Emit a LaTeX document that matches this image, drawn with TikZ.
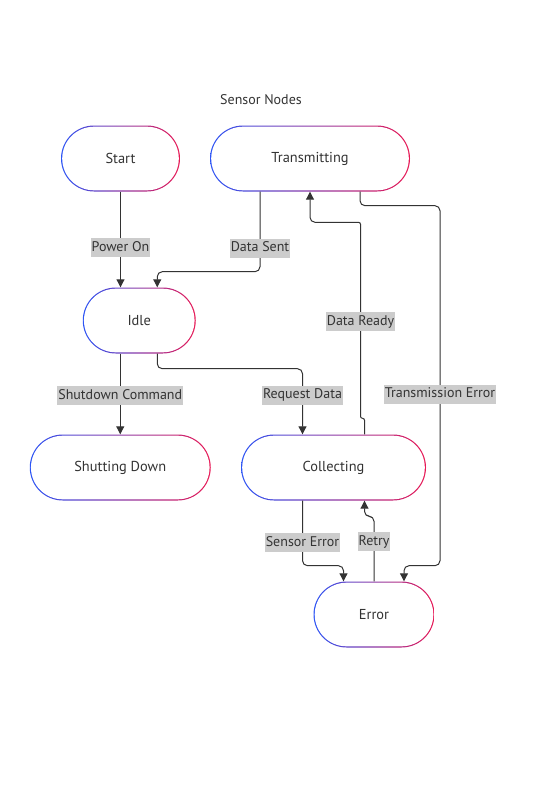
\documentclass[tikz,border=0pt]{standalone}
\usepackage{fontspec}
\setmainfont{PT Sans}
\usetikzlibrary{arrows.meta}
\definecolor{sblue}{RGB}{45,85,245}
\definecolor{spink}{RGB}{232,25,85}
\definecolor{txt}{RGB}{51,51,51}
\definecolor{lblgray}{RGB}{204,204,204}
\tikzset{
  state/.style={rectangle, rounded corners=33pt, minimum height=66pt, text=txt,
    font=\fontsize{14.4pt}{16pt}\selectfont,
    path picture={
      \shade[left color=sblue, right color=spink] (path picture bounding box.south west) rectangle (path picture bounding box.north east);
      \fill[white, rounded corners=31.8pt] ([shift={(1.2pt,1.2pt)}]path picture bounding box.south west) rectangle ([shift={(-1.2pt,-1.2pt)}]path picture bounding box.north east);
    }},
  edge/.style={draw=txt, line width=1pt, rounded corners=5pt, -{Triangle[length=8pt,width=8pt]}},
  lbl/.style={sharp corners, fill=lblgray, text=txt, font=\fontsize{14pt}{16pt}\selectfont, inner xsep=1pt, inner ysep=3pt, text height=10pt, text depth=3pt, yshift=-1.5pt}
}
\begin{document}
\begin{tikzpicture}[x=1pt,y=-1pt]
\useasboundingbox (0,0) rectangle (547,804);
\node[text=txt, font=\fontsize{14pt}{16pt}\selectfont] (title) at (261,100) {Sensor Nodes};

\node[state, minimum width=119pt] (start) at (120.5,158.5) {Start};
\node[state, minimum width=200pt] (trans) at (310,158.5) {Transmitting};
\node[state, minimum width=113pt] (idle) at (139.25,320.5) {Idle};
\node[state, minimum width=181pt] (shut) at (120.25,467.5) {Shutting Down};
\node[state, minimum width=185pt] (coll) at (333.5,467.5) {Collecting};
\node[state, minimum width=121pt] (err) at (374,614.5) {Error};

\draw[edge] (start.south) -- node[lbl, pos=.57] {Power On} (start.south |- idle.north);
\draw[edge] ([xshift=-50pt]trans.south) -- node[lbl, pos=.69] {Data Sent} ++(0,80) -| ([xshift=18pt]idle.north);
\draw[edge] (idle.south -| shut.north) -- node[lbl] {Shutdown Command} (shut.north);
\draw[edge] ([xshift=18pt]idle.south) -- ++(0,15) -| node[lbl, pos=.69] {Request Data} ([xshift=-31pt]coll.north);
\draw[edge, rounded corners=2pt] ([xshift=31pt]coll.north) -- ++(0,-16) -- ++(-4,0) -- node[lbl] {Data Ready} ++(0,-196) [rounded corners=5pt] -| (trans.south);
\draw[edge] ([xshift=50pt]trans.south) -- ++(0,14) -- ++(80,0) -- node[lbl, pos=.52] {Transmission Error} ++(0,360) -| ([xshift=30pt]err.north);
\draw[edge] ([xshift=-31pt]coll.south) -- node[lbl, pos=.62] {Sensor Error} ++(0,65) -| ([xshift=-30.5pt]err.north);
\draw[edge] (err.north) -- node[lbl, pos=.63] {Retry} ++(0,-65) -| ([xshift=31pt]coll.south);
\end{tikzpicture}
\end{document}
